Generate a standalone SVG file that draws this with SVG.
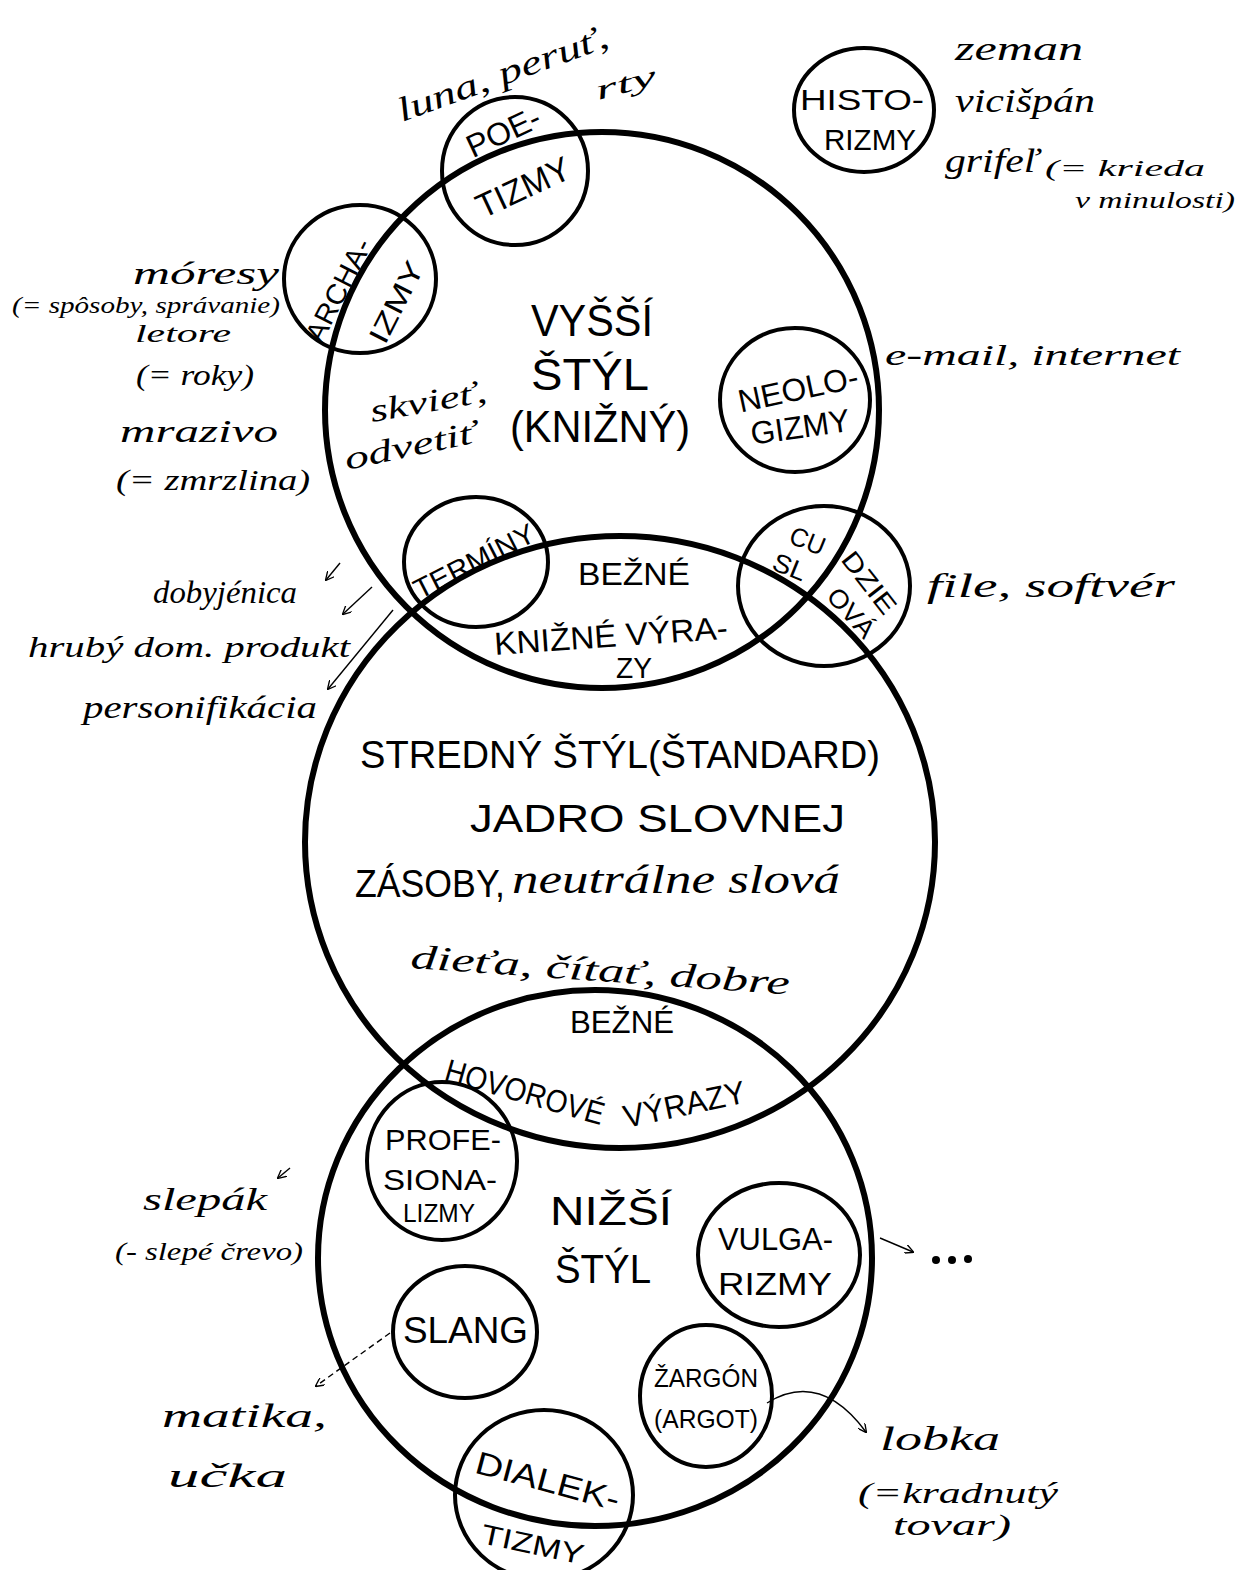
<svg xmlns="http://www.w3.org/2000/svg" width="1252" height="1570" viewBox="0 0 1252 1570">
<style>
.big{fill:none;stroke:#000;stroke-width:6}
.small{fill:none;stroke:#000;stroke-width:4}
.cap{font-family:"Liberation Sans",Arial,sans-serif;fill:#000}
.hand{font-family:"Liberation Serif","Times New Roman",serif;font-style:italic;fill:#000}
.arr{fill:none;stroke:#000;stroke-width:1.4;marker-end:url(#ah)}
</style>
<defs>
<marker id="ah" viewBox="0 0 10 10" refX="9" refY="5" markerWidth="9" markerHeight="9" markerUnits="userSpaceOnUse" orient="auto">
<path d="M0,0 L10,5 L0,10" fill="none" stroke="#000" stroke-width="1.5"/>
</marker>
</defs>
<rect width="1252" height="1570" fill="#fff"/>

<g id="vyssi-styl">
<ellipse class="big" cx="602" cy="410" rx="277" ry="278"/>
<text class="cap" x="531" y="336" font-size="44" textLength="122" lengthAdjust="spacingAndGlyphs">VYŠŠÍ</text>
<text class="cap" x="531" y="390" font-size="44" textLength="118" lengthAdjust="spacingAndGlyphs">ŠTÝL</text>
<text class="cap" x="510" y="442" font-size="44" textLength="180" lengthAdjust="spacingAndGlyphs">(KNIŽNÝ)</text>
<text class="hand" transform="translate(372,422) rotate(-10)" font-size="32" textLength="118" lengthAdjust="spacingAndGlyphs">skvieť,</text>
<text class="hand" transform="translate(347,470) rotate(-12)" font-size="32" textLength="134" lengthAdjust="spacingAndGlyphs">odvetiť</text>
</g>

<g id="stredny-styl">
<ellipse class="big" cx="620" cy="842" rx="315" ry="306"/>
<text class="cap" x="360" y="768" font-size="38" textLength="520" lengthAdjust="spacingAndGlyphs">STREDNÝ ŠTÝL(ŠTANDARD)</text>
<text class="cap" x="470" y="832" font-size="38" textLength="375" lengthAdjust="spacingAndGlyphs">JADRO SLOVNEJ</text>
<text class="cap" x="355" y="897" font-size="38" textLength="150" lengthAdjust="spacingAndGlyphs">ZÁSOBY,</text>
<text class="hand" x="512" y="893" font-size="40" textLength="328" lengthAdjust="spacingAndGlyphs">neutrálne slová</text>
<text class="hand" transform="translate(410,968) rotate(4)" font-size="34" textLength="380" lengthAdjust="spacingAndGlyphs">dieťa, čítať, dobre</text>
</g>

<g id="nizsi-styl">
<ellipse class="big" cx="595" cy="1258" rx="277" ry="268"/>
<text class="cap" x="550" y="1225" font-size="40" textLength="122" lengthAdjust="spacingAndGlyphs">NIŽŠÍ</text>
<text class="cap" x="555" y="1283" font-size="40" textLength="96" lengthAdjust="spacingAndGlyphs">ŠTÝL</text>
</g>

<g id="bezne-knizne">
<text class="cap" x="578" y="585" font-size="32" textLength="112" lengthAdjust="spacingAndGlyphs">BEŽNÉ</text>
<text class="cap" transform="translate(495,655) rotate(-4)" font-size="32" textLength="234" lengthAdjust="spacingAndGlyphs">KNIŽNÉ VÝRA-</text>
<text class="cap" x="616" y="678" font-size="30" textLength="36" lengthAdjust="spacingAndGlyphs">ZY</text>
</g>

<g id="bezne-hovorove">
<text class="cap" x="570" y="1033" font-size="32" textLength="104" lengthAdjust="spacingAndGlyphs">BEŽNÉ</text>
<text class="cap" transform="translate(443,1080) rotate(16)" font-size="32" textLength="164" lengthAdjust="spacingAndGlyphs">HOVOROVÉ</text>
<text class="cap" transform="translate(626,1128) rotate(-12)" font-size="32" textLength="124" lengthAdjust="spacingAndGlyphs">VÝRAZY</text>
</g>

<g id="poetizmy">
<ellipse class="small" cx="515" cy="171" rx="73" ry="74"/>
<text class="cap" transform="translate(503,131) rotate(-25)" text-anchor="middle" y="12" font-size="32" textLength="78" lengthAdjust="spacingAndGlyphs">POE-</text>
<text class="cap" transform="translate(523,187) rotate(-25)" text-anchor="middle" y="12" font-size="34" textLength="100" lengthAdjust="spacingAndGlyphs">TIZMY</text>
</g>

<g id="historizmy">
<ellipse class="small" cx="864" cy="110" rx="70" ry="62"/>
<text class="cap" x="800" y="110" font-size="30" textLength="124" lengthAdjust="spacingAndGlyphs">HISTO-</text>
<text class="cap" x="824" y="150" font-size="30" textLength="92" lengthAdjust="spacingAndGlyphs">RIZMY</text>
</g>

<g id="archaizmy">
<ellipse class="small" cx="360" cy="279" rx="76" ry="74"/>
<text class="cap" transform="translate(338,290) rotate(-63)" text-anchor="middle" y="10" font-size="28" textLength="112" lengthAdjust="spacingAndGlyphs">ARCHA-</text>
<text class="cap" transform="translate(396,302) rotate(-63)" text-anchor="middle" y="10" font-size="28" textLength="88" lengthAdjust="spacingAndGlyphs">IZMY</text>
</g>

<g id="neologizmy">
<ellipse class="small" cx="795" cy="400" rx="75" ry="72"/>
<text class="cap" transform="translate(798,388) rotate(-12)" text-anchor="middle" y="12" font-size="32" textLength="122" lengthAdjust="spacingAndGlyphs">NEOLO-</text>
<text class="cap" transform="translate(800,426) rotate(-8)" text-anchor="middle" y="12" font-size="32" textLength="100" lengthAdjust="spacingAndGlyphs">GIZMY</text>
</g>

<g id="terminy">
<ellipse class="small" cx="476" cy="562" rx="72" ry="65"/>
<text class="cap" transform="translate(474,561) rotate(-27)" text-anchor="middle" y="10" font-size="28" textLength="132" lengthAdjust="spacingAndGlyphs">TERMÍNY</text>
</g>

<g id="cudzie-slova">
<ellipse class="small" cx="824" cy="586" rx="86" ry="80"/>
<text class="cap" transform="translate(808,540) rotate(22)" text-anchor="middle" y="10" font-size="26" textLength="36" lengthAdjust="spacingAndGlyphs">CU</text>
<text class="cap" transform="translate(790,566) rotate(22)" text-anchor="middle" y="10" font-size="26" textLength="34" lengthAdjust="spacingAndGlyphs">SL</text>
<text class="cap" transform="translate(870,582) rotate(52)" text-anchor="middle" y="10" font-size="26" textLength="72" lengthAdjust="spacingAndGlyphs">DZIE</text>
<text class="cap" transform="translate(852,612) rotate(48)" text-anchor="middle" y="10" font-size="26" textLength="58" lengthAdjust="spacingAndGlyphs">OVÁ</text>
</g>

<g id="profesionalizmy">
<ellipse class="small" cx="442" cy="1161" rx="75" ry="79"/>
<text class="cap" x="385" y="1150" font-size="30" textLength="116" lengthAdjust="spacingAndGlyphs">PROFE-</text>
<text class="cap" x="383" y="1190" font-size="30" textLength="114" lengthAdjust="spacingAndGlyphs">SIONA-</text>
<text class="cap" x="403" y="1222" font-size="26" textLength="72" lengthAdjust="spacingAndGlyphs">LIZMY</text>
</g>

<g id="vulgarizmy">
<ellipse class="small" cx="779" cy="1255" rx="81" ry="72"/>
<text class="cap" x="718" y="1250" font-size="32" textLength="115" lengthAdjust="spacingAndGlyphs">VULGA-</text>
<text class="cap" x="718" y="1295" font-size="32" textLength="114" lengthAdjust="spacingAndGlyphs">RIZMY</text>
</g>

<g id="slang">
<ellipse class="small" cx="465" cy="1332" rx="72" ry="66"/>
<text class="cap" x="403" y="1343" font-size="36" textLength="125" lengthAdjust="spacingAndGlyphs">SLANG</text>
</g>

<g id="zargon">
<ellipse class="small" cx="706" cy="1396" rx="66" ry="71"/>
<text class="cap" x="654" y="1387" font-size="26" textLength="104" lengthAdjust="spacingAndGlyphs">ŽARGÓN</text>
<text class="cap" x="654" y="1428" font-size="26" textLength="104" lengthAdjust="spacingAndGlyphs">(ARGOT)</text>
</g>

<g id="dialektizmy">
<ellipse class="small" cx="544" cy="1495" rx="89" ry="85"/>
<text class="cap" transform="translate(548,1480) rotate(15)" text-anchor="middle" y="12" font-size="32" textLength="148" lengthAdjust="spacingAndGlyphs">DIALEK-</text>
<text class="cap" transform="translate(533,1543) rotate(12)" text-anchor="middle" y="11" font-size="28" textLength="104" lengthAdjust="spacingAndGlyphs">TIZMY</text>
</g>

<g id="poetizmy-priklady">
<text class="hand" transform="translate(402,122) rotate(-20)" font-size="34" textLength="222" lengthAdjust="spacingAndGlyphs">luna, peruť,</text>
<text class="hand" transform="translate(598,100) rotate(-15)" font-size="28" textLength="62" lengthAdjust="spacingAndGlyphs">rty</text>
</g>

<g id="historizmy-priklady">
<text class="hand" x="955" y="60" font-size="34" textLength="128" lengthAdjust="spacingAndGlyphs">zeman</text>
<text class="hand" x="955" y="112" font-size="34" textLength="140" lengthAdjust="spacingAndGlyphs">vicišpán</text>
<text class="hand" x="945" y="172" font-size="34" textLength="94" lengthAdjust="spacingAndGlyphs">grifeľ</text>
<text class="hand" x="1045" y="176" font-size="24" textLength="160" lengthAdjust="spacingAndGlyphs">(= krieda</text>
<text class="hand" x="1075" y="208" font-size="24" textLength="160" lengthAdjust="spacingAndGlyphs">v minulosti)</text>
</g>

<g id="archaizmy-priklady">
<text class="hand" x="133" y="284" font-size="32" textLength="146" lengthAdjust="spacingAndGlyphs">móresy</text>
<text class="hand" x="12" y="313" font-size="24" textLength="268" lengthAdjust="spacingAndGlyphs">(= spôsoby, správanie)</text>
<text class="hand" x="135" y="342" font-size="26" textLength="96" lengthAdjust="spacingAndGlyphs">letore</text>
<text class="hand" x="136" y="385" font-size="30" textLength="118" lengthAdjust="spacingAndGlyphs">(= roky)</text>
<text class="hand" x="120" y="442" font-size="32" textLength="158" lengthAdjust="spacingAndGlyphs">mrazivo</text>
<text class="hand" x="116" y="490" font-size="30" textLength="194" lengthAdjust="spacingAndGlyphs">(= zmrzlina)</text>
</g>

<g id="neologizmy-priklady">
<text class="hand" x="885" y="365" font-size="30" textLength="295" lengthAdjust="spacingAndGlyphs">e-mail, internet</text>
</g>

<g id="terminy-priklady">
<text class="hand" x="153" y="603" font-size="32" textLength="144" lengthAdjust="spacingAndGlyphs">dobyjénica</text>
<text class="hand" x="28" y="657" font-size="30" textLength="322" lengthAdjust="spacingAndGlyphs">hrubý dom. produkt</text>
<text class="hand" x="83" y="718" font-size="32" textLength="234" lengthAdjust="spacingAndGlyphs">personifikácia</text>
</g>

<g id="cudzie-priklady">
<text class="hand" x="927" y="597" font-size="34" textLength="248" lengthAdjust="spacingAndGlyphs">file, softvér</text>
</g>

<g id="profesionalizmy-priklady">
<text class="hand" x="143" y="1210" font-size="32" textLength="124" lengthAdjust="spacingAndGlyphs">slepák</text>
<text class="hand" x="115" y="1260" font-size="26" textLength="188" lengthAdjust="spacingAndGlyphs">(- slepé črevo)</text>
</g>

<g id="slang-priklady">
<text class="hand" x="162" y="1427" font-size="34" textLength="165" lengthAdjust="spacingAndGlyphs">matika,</text>
<text class="hand" x="168" y="1487" font-size="34" textLength="119" lengthAdjust="spacingAndGlyphs">učka</text>
</g>

<g id="vulgarizmy-pokracovanie">
<circle cx="936" cy="1260" r="4"/>
<circle cx="952" cy="1260" r="4"/>
<circle cx="968" cy="1259" r="4"/>
</g>

<g id="zargon-priklady">
<text class="hand" x="880" y="1450" font-size="34" textLength="120" lengthAdjust="spacingAndGlyphs">lobka</text>
<text class="hand" x="858" y="1503" font-size="30" textLength="200" lengthAdjust="spacingAndGlyphs">(=kradnutý</text>
<text class="hand" x="893" y="1535" font-size="30" textLength="118" lengthAdjust="spacingAndGlyphs">tovar)</text>
</g>

<g id="connectors">
<path class="arr" d="M340,563 L326,580"/>
<path class="arr" d="M372,587 L343,614"/>
<path class="arr" d="M393,610 L328,689"/>
<path class="arr" d="M290,1168 L278,1178"/>
<path class="arr" d="M390,1333 L316,1386" stroke-dasharray="6 4"/>
<path class="arr" d="M880,1238 L913,1252"/>
<path class="arr" d="M767,1403 Q820,1370 866,1432"/>
</g>
</svg>
